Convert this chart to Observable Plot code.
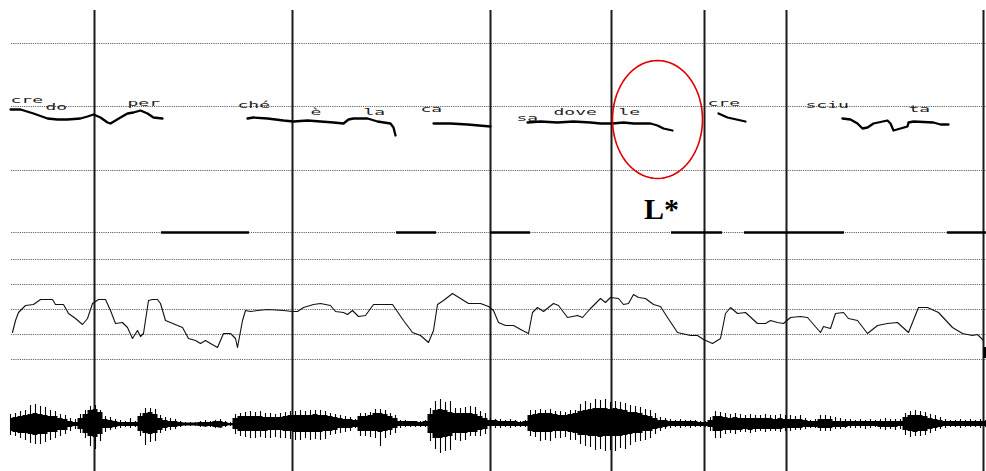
<!DOCTYPE html>
<html><head><meta charset="utf-8">
<script src="https://cdn.jsdelivr.net/npm/d3@7"></script>
<script src="https://cdn.jsdelivr.net/npm/@observablehq/plot@0.6"></script>
<style>
html,body{margin:0;padding:0;background:#fff;}
#chart svg{display:block;}
</style></head><body><div id="chart"></div>
<script>
// ---- data (time axis in arbitrary units along the utterance) ----
const boundaries = [94, 292, 490, 611, 704, 786, 983];
const gridLevels = [43, 106, 170, 232, 259, 284, 309, 334, 359];
const syllables = ["cre","do","per","ché","è","la","ca","sa","dove","le","cre","sciu","ta"];
const syllableTime = [10,45,127,237,310,363,420,516,553,618,707,805,908];
const syllableLevel = [100,107,103,105,112,112,109,118,112,112,103,105,109];
const toneStart = [161,396,490,671,744,947];
const toneEnd   = [249,436,530,722,844,986];

const contourCredoPer = [[10,109],[20,109],[33,113],[47,118],[57,119],[67,119],[80,118],[87,116],[93,114],[100,117],[107,122],[110,123],[115,120],[120,117],[127,113],[133,112],[140,110],[147,113],[153,117],[162,118]];
const contourCheELa = [[247,118],[253,117],[267,118],[283,120],[293,121],[307,120],[320,121],[333,122],[343,123],[348,119],[353,118],[367,118],[377,121],[390,123],[393,127],[395,135]];
const contourCa = [[433,123],[450,123],[467,124],[490,126]];
const contourSaDoveLe = [[527,122],[540,121],[557,122],[573,121],[590,122],[600,123],[612,123],[623,122],[633,123],[650,123],[657,125],[663,128],[672,130]];
const contourCre = [[718,113],[727,117],[745,121]];
const contourSciuTa = [[842,118],[850,119],[857,123],[862,128],[867,127],[873,123],[887,120],[890,123],[893,130],[900,128],[907,126],[908,122],[913,121],[933,122],[940,124],[948,124]];

const f0Time = [12,15,18,25,33,40,52,55,63,68,75,82,87,92,98,105,110,115,122,127,132,137,140,143,148,152,157,160,165,170,177,182,188,195,200,205,210,217,223,230,235,237,242,245,250,257,267,283,292,297,303,313,320,330,335,343,347,352,358,365,373,392,403,412,420,428,433,437,443,452,460,468,480,488,493,498,505,513,522,528,532,537,543,553,558,567,577,582,590,600,605,610,618,623,628,633,638,645,653,660,667,677,690,697,703,712,720,725,730,737,745,757,765,770,777,783,790,800,807,820,823,830,835,843,848,857,867,877,887,897,908,918,927,938,952,962,972,977,983];
const f0Value = [332,320,312,305,304,299,299,304,304,313,318,324,318,303,299,299,310,323,322,327,338,330,336,333,300,299,299,303,320,322,325,327,338,340,343,340,343,347,333,333,338,347,320,310,311,310,309,310,311,311,307,304,303,305,311,312,314,310,316,315,304,304,320,332,335,342,330,304,300,293,298,303,303,306,310,322,325,325,330,333,312,307,311,303,305,317,315,317,308,298,302,297,298,304,303,294,297,298,304,306,317,332,335,335,339,343,338,313,307,313,312,323,323,320,322,323,317,316,317,332,326,328,313,312,318,320,333,325,323,322,332,307,307,312,327,333,335,334,340];

// waveform envelope, sampled from t=10 every 5 units
const waveStart = 10, waveStep = 5;
const waveCoreHi = [6,7,8,9,10,11,10,9,8,8, 6,5,3,2,6,10,14,15,12,5, 4,3,2,2,2,2,8,11,12,10, 6,4,3,3,2,1.5,1.5,1.5,2,2, 2,3,3,2,1,6,8,8,8,8, 8,7,7,7,7,8,9,9,9,9, 9,10,9,9,8,7,6,5,5,4, 8,8,9,11,11,10,8,6,3,3, 3,3,2,3,10,14,15,14,12,11, 11,11,11,10,8,6,4,4,3,3, 3,3,2,3,9,10,11,11,11,10, 9,9,10,11,13,14,15,16,16,16, 15,16,15,14,12,12,11,9,8,6, 4,4,3,3,3,3,3,3,2,2, 4,8,8,7,6,7,6,6,6,6, 6,6,6,5,6,5,5,5,5,4, 3,3,5,5,5,3,3,3,3,3, 3,3,3,3,3,3,3,3,3,7, 9,9,9,8,6,5,4,3,3,3, 3,3,3,3,3,3];
const waveCoreLo = [7,8,9,9,10,11,10,10,8,8, 6,6,3,2,5,9,12,13,10,4, 4,3,2,2,2,2,7,9,10,9, 6,4,3,3,2,1.5,1.5,1.5,2,2.5, 2,3,3.5,2,1.3,5,7,7,7,7, 7,7,6,6,6,7,7,8,8,8, 8,8,8,7,7,6,4,4,4,3, 7,7,7,7,8,7,6,4,2,2, 2,2,2,2,9,14,14,13,12,9, 9,9,8,8,6,5,2,2,2,2, 2,2,2,2,7,8,8,8,8,7, 7,7,8,9,11,11,12,12,13,12, 12,12,12,11,10,9,9,7,7,5, 4,3,2,2,2,2,2,2,2,2, 3,7,7,6,6,6,6,5,6,5, 5,5,5,5,5,4,4,4,4,3, 3,3,4,4,4,3,3,3,2,2, 2,2,2,2,3,3,3,3,2,6, 7,8,7,7,5,4,3,2,2,2, 2,2,2,2,2,2];
const wavePeakHi = [10,11,13,14,19,20,18,17,14,13, 10,9,6,5,10,14,18,19,14,8, 7,5,4,3,6,3,11,16,16,15, 9,7,6,5,3,2,2,2,3,4, 3,4,5,3,2,10,11,12,13,12, 13,11,11,10,11,12,13,13,14,13, 14,14,14,13,11,10,9,8,7,5, 11,11,12,15,15,14,11,9,4,4, 3,3,3,4,16,23,25,22,23,16, 16,17,18,17,13,11,6,5,5,4, 5,4,3,4,14,14,15,14,15,13, 13,12,14,14,20,23,21,25,24,25, 22,23,22,21,19,18,17,15,14,11, 7,6,5,4,5,4,4,4,3,3, 7,13,12,11,10,11,10,9,10,9, 9,10,9,9,10,9,9,8,9,6, 4,5,9,9,8,7,6,5,5,4, 5,4,5,4,5,6,5,5,5,11, 13,14,13,12,10,9,7,5,4,4, 5,4,5,4,5,4];
const wavePeakLo = [11,12,14,16,19,20,20,18,16,14, 12,10,7,5,9,14,22,25,17,8, 6,5,4,3,4,3,12,21,18,17, 9,7,6,5,3,2,2,2,3,3, 3,4,4,3,2,10,12,13,14,14, 13,14,14,13,14,14,15,16,16,14, 16,15,16,15,11,10,9,8,7,4, 12,12,13,14,22,14,11,9,4,3, 3,3,3,3,17,25,29,27,26,16, 17,16,12,12,12,10,5,4,4,3, 4,3,3,3,12,13,17,16,17,14, 14,13,16,16,20,22,23,26,25,27, 26,27,24,25,21,18,17,16,14,10, 7,5,4,3,4,3,4,3,3,3, 7,14,14,10,9,10,8,8,9,8, 7,8,7,7,8,7,7,6,6,5, 4,4,7,7,7,5,5,4,4,4, 4,5,4,3,5,6,5,6,5,11, 13,12,12,11,9,7,5,4,3,3, 4,3,3,3,4,3];

const accentLabel = "L*";

// ---- layout ----
const W = 986, H = 471;
const gridX1 = 11, gridX2 = 986, boundaryTop = 10;
const toneLevel = 232, waveCenter = 424;
const accent = {t: 657, v: 119, rt: 45, rv: 59, labelT: 661, labelV: 209};
const sylStretch = 2; // horizontal stretch of the tier font

// ---- build tables ----
const contours = [
  ["credoPer", contourCredoPer], ["cheELa", contourCheELa], ["ca", contourCa],
  ["saDoveLe", contourSaDoveLe], ["cre", contourCre], ["sciuTa", contourSciuTa]
].flatMap(([name, pts]) => pts.map(([t, v]) => ({name, t, v})));
const sylData = syllables.map((s, i) => ({s, t: syllableTime[i], v: syllableLevel[i]}));
const tones = toneStart.map((a, i) => ({a, b: toneEnd[i]}));
const f0 = f0Time.map((t, i) => ({t, v: f0Value[i]}));
const wave = waveCoreHi.map((_, i) => ({
  t: waveStart + i * waveStep,
  ch: waveCoreHi[i], cl: waveCoreLo[i], ph: wavePeakHi[i], pl: wavePeakLo[i]
}));
const ellipse = d3.range(0, 73).map(k => {
  const a = k / 72 * 2 * Math.PI;
  return {t: accent.t + accent.rt * Math.cos(a), v: accent.v + accent.rv * Math.sin(a)};
});

const chart = Plot.plot({
  width: W, height: H,
  marginTop: 0, marginRight: 0, marginBottom: 0, marginLeft: 0,
  style: {background: "#fff"},
  x: {domain: [0, W], range: [0, W], axis: null},
  y: {domain: [0, H], range: [0, H], axis: null},
  marks: [
    Plot.ruleY(gridLevels, {y: d => d, x1: () => gridX1, x2: () => gridX2,
      stroke: "#666", strokeWidth: 1, strokeDasharray: "1.2,1"}),
    Plot.ruleX(boundaries, {x: d => d, y1: () => boundaryTop, y2: () => H,
      stroke: "#1a1a1a", strokeWidth: 2}),
    Plot.ruleY(tones, {x1: "a", x2: "b", y: () => toneLevel, stroke: "#000", strokeWidth: 2.5}),
    Plot.line(contours, {x: "t", y: "v", z: "name", stroke: "#000", strokeWidth: 2.3,
      strokeLinejoin: "round"}),
    Plot.text(sylData, {x: "t", y: "v", text: "s", textAnchor: "start", lineAnchor: "middle",
      fontSize: 9, fontFamily: "DejaVu Sans Mono", fill: "#222"}),
    Plot.line(f0, {x: "t", y: "v", stroke: "#111", strokeWidth: 1.1}),
    Plot.areaY(wave, {x: "t", y1: d => waveCenter - d.ch, y2: d => waveCenter + d.cl, fill: "#000", curve: "step"}),
    Plot.ruleX(wave, {x: "t", y1: d => waveCenter - d.ph, y2: d => waveCenter + d.pl,
      stroke: "#000", strokeWidth: 1.1}),
    Plot.ruleX([boundaries[boundaries.length - 1]], {x: d => d + 1.5, y1: () => 347, y2: () => 358,
      stroke: "#000", strokeWidth: 3}),
    Plot.line(ellipse, {x: "t", y: "v", stroke: "#e00000", strokeWidth: 1.6, curve: "linear-closed"}),
    Plot.text([accentLabel], {x: () => accent.labelT, y: () => accent.labelV, text: d => d,
      fontSize: 30, fontWeight: "bold", fontFamily: "Liberation Serif", fill: "#000",
      lineAnchor: "middle", textAnchor: "middle"})
  ]
});
// stretch the syllable labels horizontally, like the original tier font
const textGroups = chart.querySelectorAll('g[aria-label="text"]');
if (textGroups.length) {
  textGroups[0].querySelectorAll("text").forEach(el => {
    const tr = el.getAttribute("transform");
    if (tr) {
      el.setAttribute("transform", tr + ` scale(${sylStretch},1)`);
    } else {
      const x = +el.getAttribute("x") || 0, y = +el.getAttribute("y") || 0;
      el.setAttribute("transform", `translate(${x},${y}) scale(${sylStretch},1) translate(${-x},${-y})`);
    }
  });
}
document.getElementById("chart").appendChild(chart);
</script></body></html>
